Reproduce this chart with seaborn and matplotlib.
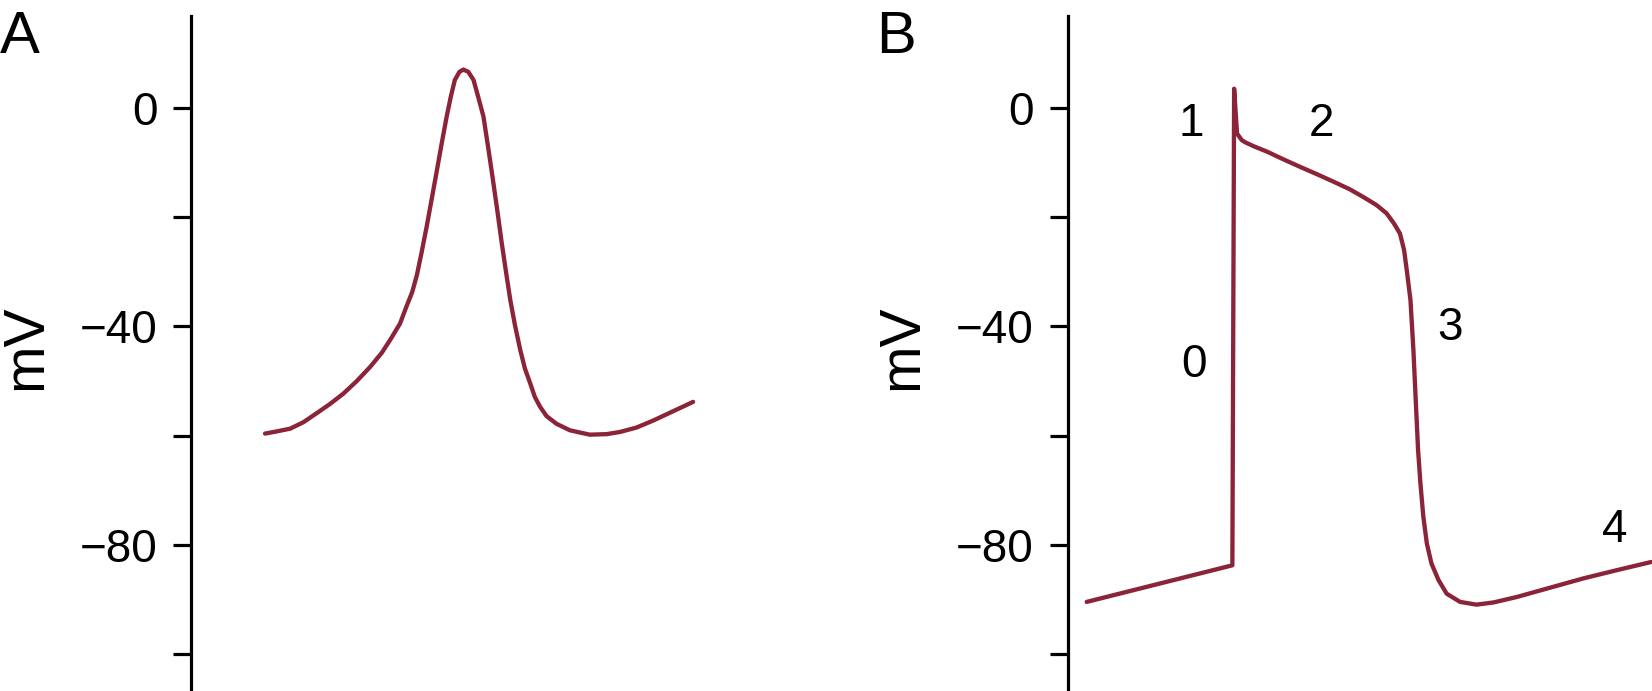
"""
Cardiac action potentials: (A) pacemaker (SA node) cell, (B) ventricular myocyte.
"""
import warnings
warnings.filterwarnings("ignore")

import numpy as np
import pandas as pd
import matplotlib
matplotlib.use("Agg")
import matplotlib.pyplot as plt
import seaborn as sns

sns.set_style("ticks")
plt.rcParams.update({
    'font.family': ['Liberation Sans', 'DejaVu Sans'],
    'font.size': 33,
    'axes.linewidth': 2.3,
    'axes.edgecolor': 'black',
    'axes.labelcolor': 'black',
    'text.color': 'black',
    'ytick.color': 'black',
})

LINE_COLOR = '#8B2339'

# ── Panel A: pacemaker potential (time in arbitrary units, mV) ──
t_a = [12.6, 14.6, 16.9, 19.2, 21.4, 23.7, 26.0, 28.3, 30.6, 32.6, 34.0, 35.7,
       36.8, 37.8, 38.6, 39.4, 40.3, 41.1, 42.0, 42.8, 43.7, 44.4, 45.1, 45.9,
       46.55, 47.4, 48.3, 49.1, 50.0, 50.8, 51.6, 52.4, 53.1,
       53.9, 54.6, 55.4, 56.3, 57.1, 58.0, 58.8, 59.7, 60.8, 62.5, 64.8,
       68.2, 71.1, 73.4, 76.2, 79.1, 82.5, 85.9]
v_a = [-59.6, -59.2, -58.7, -57.5, -55.9, -54.2, -52.3, -50.0, -47.4, -44.8, -42.5, -39.5,
       -36.4, -33.7, -30.6, -26.5, -21.6, -16.9, -11.6, -6.8, -1.6, 2.0, 5.1, 6.6,
       7.0, 6.6, 5.1, 2.0, -1.6, -7.2, -13.0, -19.0, -24.5,
       -30.3, -35.2, -39.8, -44.3, -47.7, -50.4, -52.9, -54.7, -56.4, -57.8, -59.0,
       -59.8, -59.7, -59.3, -58.5, -57.2, -55.5, -53.8]

# ── Panel B: ventricular action potential ──
t_b = [3.25, 28.2, 28.5, 29.0, 29.8, 30.4, 31.8, 34.1, 36.9, 39.8, 42.6, 45.5,
       48.3, 50.6, 52.9, 54.6, 55.9, 56.9, 57.6, 58.04, 58.7, 59.2, 59.6, 60.0,
       60.4, 60.9, 61.5, 62.3, 63.5, 64.9, 67.2, 70.0, 72.9, 76.9, 82.6, 88.3,
       94.0, 99.9]
v_b = [-90.4, -83.7, 3.5, -4.7, -5.9, -6.3, -7.0, -8.0, -9.4, -10.8, -12.1, -13.5,
       -14.9, -16.3, -17.8, -19.3, -21.2, -23.0, -26.0, -29.5, -35.2, -44.3, -53.5, -62.6,
       -68.7, -74.8, -79.7, -83.4, -86.4, -88.9, -90.4, -90.9, -90.5, -89.5, -87.8, -86.1,
       -84.6, -83.1]

# phase labels for panel B
phase_labels = ['0', '1', '2', '3', '4']
phase_t = [21.6, 21.2, 43.5, 65.5, 93.6]
phase_v = [-47.0, -3.0, -3.0, -40.2, -77.2]

y_ticks = [-100, -80, -60, -40, -20, 0]
y_ticklabels = ['', '\u221280', '', '\u221240', '', '0']

df_a = pd.DataFrame({'t': t_a, 'mV': v_a})
df_b = pd.DataFrame({'t': t_b, 'mV': v_b})

fig = plt.figure(figsize=(16.52, 6.91), dpi=100)
ax_a = fig.add_axes([0.1159, 0.0, 0.3535, 0.9768])
ax_b = fig.add_axes([0.6463, 0.0, 0.3535, 0.9768])

for ax, df in [(ax_a, df_a), (ax_b, df_b)]:
    sns.lineplot(data=df, x='t', y='mV', ax=ax, color=LINE_COLOR, linewidth=3.1,
                 sort=False, estimator=None)
    ax.lines[0].set_solid_joinstyle('round')
    ax.set_xlim(0, 100)
    ax.set_ylim(-106.7, 16.8)
    ax.set_yticks(y_ticks)
    ax.set_yticklabels(y_ticklabels)
    ax.set_xticks([])
    ax.set_xlabel('')
    ax.set_ylabel('mV', fontsize=41)
    ax.yaxis.set_label_coords(-0.237, 0.51)
    ax.tick_params(axis='y', left=True, direction='out', length=13, width=2.3,
                   pad=11.5, labelsize=33, colors='black')
    sns.despine(ax=ax, top=True, right=True, bottom=True)
    ax.spines['left'].set_linewidth(2.3)

for lab, t, v in zip(phase_labels, phase_t, phase_v):
    ax_b.text(t, v, lab, ha='center', va='center', fontsize=33)

fig.text(0.0, 1 - 53 / 691, 'A', ha='left', va='baseline', fontsize=43)
fig.text(876 / 1652, 1 - 53 / 691, 'B', ha='left', va='baseline', fontsize=43)

fig.savefig('out.png', dpi=100, facecolor='white')
plt.close(fig)
